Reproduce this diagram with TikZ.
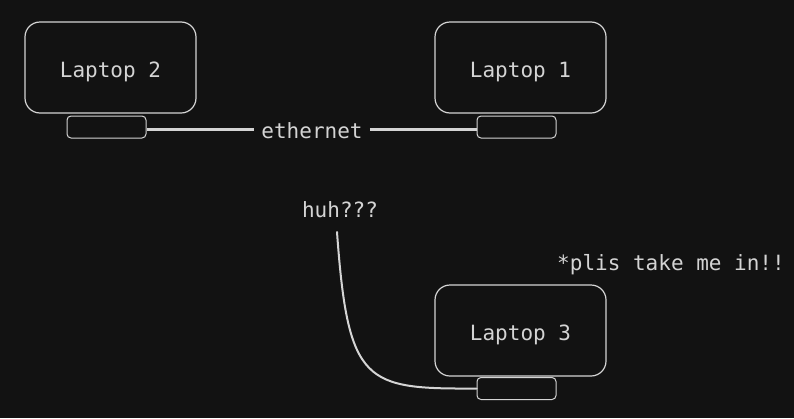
\documentclass[tikz,border=0pt]{standalone}
\usepackage{fontspec}
\setmonofont{DejaVu Sans Mono}
\usetikzlibrary{positioning}
\definecolor{bg}{HTML}{121212}
\definecolor{ink}{HTML}{D4D4D4}
\tikzset{
    laptop/.style={draw=ink, line width=1.2pt, rounded corners=15pt, minimum width=171pt, minimum height=91pt, text=ink, text height=22pt, text depth=2pt, font=\ttfamily\fontsize{21}{25}\selectfont},
    port/.style={draw=ink, line width=1pt, rounded corners=4pt, minimum width=79pt, minimum height=22pt, inner sep=0pt},
    label/.style={text=ink, font=\ttfamily\fontsize{21}{25}\selectfont, inner sep=1pt},
    cable/.style={draw=ink, line width=3pt}
}
\begin{document}
\begin{tikzpicture}[x=1pt, y=-1pt]
    \fill[bg] (0,0) rectangle (794,418);
    \useasboundingbox (0,0) rectangle (794,418);

    % Laptops
    \node[laptop] (l2) at (110.5,67.5) {Laptop 2};
    \node[laptop] (l1) at (520.5,67.5) {Laptop 1};
    \node[laptop] (l3) at (520.5,330.5) {Laptop 3};

    % Ports
    \node[port] (p2) at (106.5,127) {};
    \node[port] (p1) at (516.5,127) {};
    \node[port] (p3) at (516.5,388.5) {};

    % Ethernet cable
    \node[label] (eth) at (312,130.5) {ethernet};
    \coordinate (e2) at ([yshift=-2pt]p2.east);
    \coordinate (e1) at ([yshift=-2pt]p1.west);
    \draw[cable] (e2) -- ([xshift=-6pt]e2 -| eth.west);
    \draw[cable] ([xshift=6pt]e1 -| eth.east) -- (e1);

    % Loose cable
    \node[label] (huh) at (340,209.5) {huh???};
    \coordinate (tip) at (337,232);
    \draw[ink, line width=2pt, line cap=round] (tip) .. controls (348,385) and (365,389) .. (p3.west);

    \node[label] (plea) at (671,264.5) {*plis take me in!!};
\end{tikzpicture}
\end{document}
